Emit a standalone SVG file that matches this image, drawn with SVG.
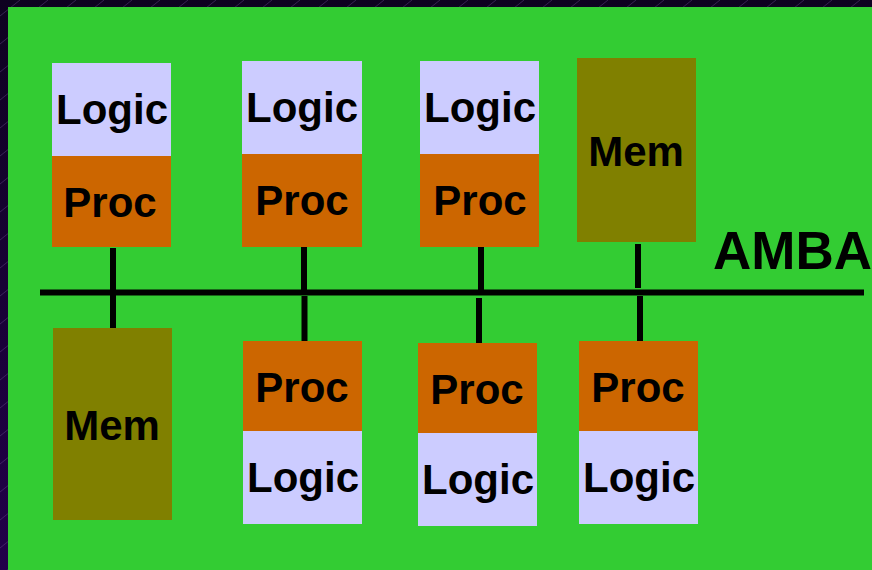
<svg xmlns="http://www.w3.org/2000/svg" width="872" height="570" viewBox="0 0 872 570">
  <defs>
    <linearGradient id="bgGrad" x1="0" y1="0" x2="0" y2="1">
      <stop offset="0" stop-color="#0e0220"/>
      <stop offset="1" stop-color="#22004a"/>
    </linearGradient>
    <pattern id="hatch" width="28" height="28" patternUnits="userSpaceOnUse">
      <line x1="0" y1="16" x2="20" y2="0" stroke="#6a4a90" stroke-width="0.7" opacity="0.6"/>
    </pattern>
  </defs>
  <style>
    .logic { fill: #ccccff; }
    .proc { fill: #cc6600; }
    .mem { fill: #808000; }
    .lbl { font-family: "Liberation Sans", Arial, sans-serif; font-weight: bold; font-size: 42px; fill: #000; text-anchor: middle; }
    .wire { stroke: #000; stroke-width: 6; fill: none; }
  </style>

  <!-- backdrop and board -->
  <rect x="0" y="0" width="872" height="570" fill="url(#bgGrad)"/>
  <rect x="0" y="0" width="872" height="570" fill="url(#hatch)"/>
  <rect x="8" y="7" width="864" height="563" fill="#33cc33"/>

  <!-- bus and taps -->
  <g id="connectors">
    <line class="wire" x1="40" y1="292.5" x2="864" y2="292.5"/>
    <line class="wire" x1="113" y1="248" x2="113" y2="336"/>
    <line class="wire" x1="304" y1="247" x2="304" y2="290"/>
    <line class="wire" x1="304.5" y1="296" x2="304.5" y2="341"/>
    <line class="wire" x1="481" y1="247" x2="481" y2="290"/>
    <line class="wire" x1="479" y1="298" x2="479" y2="343"/>
    <line class="wire" x1="638" y1="244" x2="638" y2="288"/>
    <line class="wire" x1="640" y1="296" x2="640" y2="341"/>
  </g>

  <!-- upper row -->
  <g id="node-top1">
    <rect class="logic" x="52" y="63" width="119" height="93"/>
    <text class="lbl" x="112" y="124">Logic</text>
    <rect class="proc" x="52" y="156" width="119" height="91"/>
    <text class="lbl" x="110" y="217">Proc</text>
  </g>
  <g id="node-top2">
    <rect class="logic" x="242" y="61" width="120" height="93"/>
    <text class="lbl" x="302" y="122">Logic</text>
    <rect class="proc" x="242" y="154" width="120" height="93"/>
    <text class="lbl" x="302" y="215">Proc</text>
  </g>
  <g id="node-top3">
    <rect class="logic" x="420" y="61" width="119" height="93"/>
    <text class="lbl" x="480" y="122">Logic</text>
    <rect class="proc" x="420" y="154" width="119" height="93"/>
    <text class="lbl" x="480" y="215">Proc</text>
  </g>
  <g id="node-top-mem">
    <rect class="mem" x="577" y="58" width="119" height="184"/>
    <text class="lbl" x="636" y="166">Mem</text>
  </g>

  <!-- lower row -->
  <g id="node-bottom-mem">
    <rect class="mem" x="53" y="328" width="119" height="192"/>
    <text class="lbl" x="112" y="440">Mem</text>
  </g>
  <g id="node-bottom2">
    <rect class="proc" x="243" y="341" width="119" height="90"/>
    <text class="lbl" x="302" y="402">Proc</text>
    <rect class="logic" x="243" y="431" width="119" height="93"/>
    <text class="lbl" x="303" y="492">Logic</text>
  </g>
  <g id="node-bottom3">
    <rect class="proc" x="418" y="343" width="119" height="90"/>
    <text class="lbl" x="477" y="404">Proc</text>
    <rect class="logic" x="418" y="433" width="119" height="93"/>
    <text class="lbl" x="478" y="494">Logic</text>
  </g>
  <g id="node-bottom4">
    <rect class="proc" x="579" y="341" width="119" height="90"/>
    <text class="lbl" x="638" y="402">Proc</text>
    <rect class="logic" x="579" y="431" width="119" height="93"/>
    <text class="lbl" x="639" y="492">Logic</text>
  </g>

  <text id="bus-label" x="713" y="269" style="font-family: 'Liberation Sans', Arial, sans-serif; font-weight: bold; font-size: 53px; fill: #000;">AMBA</text>
</svg>
